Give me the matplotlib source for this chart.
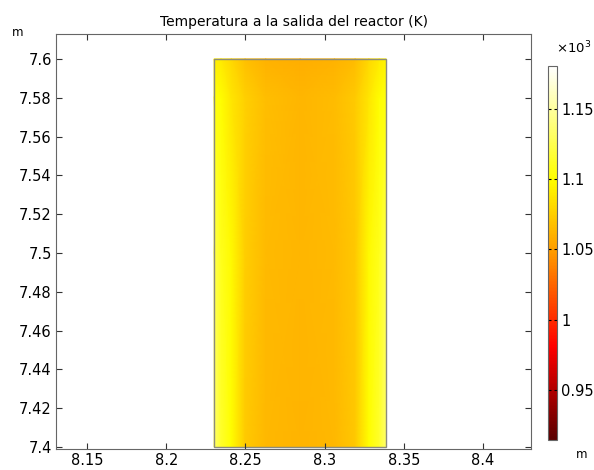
import numpy as np
import matplotlib.pyplot as plt
from matplotlib.colors import LinearSegmentedColormap, Normalize
from matplotlib.ticker import FixedLocator, FuncFormatter

# dominio del reactor (m)
x_edges = [8.2302, 8.3388]
y_edges = [7.40, 7.60]

# posiciones relativas en x donde se leyo la temperatura
x_frac = [0, 0.04, 0.10, 0.18, 0.30, 0.50, 0.70, 0.82, 0.90, 0.96, 1.0]
y_pts = [7.40, 7.50, 7.58, 7.60]

# temperatura (K)
T_y740 = [1135, 1115, 1100, 1073, 1064, 1062, 1064, 1072, 1100, 1115, 1135]
T_y750 = [1125, 1110, 1098, 1075, 1065, 1063, 1065, 1072, 1098, 1110, 1125]
T_y758 = [1105, 1100, 1088, 1076, 1067, 1063, 1066, 1073, 1088, 1100, 1105]
T_y760 = [1092, 1090, 1080, 1068, 1061, 1058, 1061, 1066, 1080, 1090, 1095]

T_min, T_max = 914, 1181
cbar_ticks = [950, 1000, 1050, 1100, 1150]
x_ticks = [8.15, 8.2, 8.25, 8.3, 8.35, 8.4]
y_ticks = [7.4, 7.42, 7.44, 7.46, 7.48, 7.5, 7.52, 7.54, 7.56, 7.58, 7.6]

# mapa de color tipo "thermal" de COMSOL
cmap = LinearSegmentedColormap.from_list('calor', [
    (0.00, (0.35, 0.0, 0.0)),
    (0.25, (1.0, 0.0, 0.0)),
    (0.50, (1.0, 0.6, 0.0)),
    (0.70, (1.0, 1.0, 0.0)),
    (1.00, (1.0, 1.0, 1.0)),
])
norm = Normalize(T_min, T_max)

fig = plt.figure(figsize=(5.94, 4.70), dpi=100)
ax = fig.add_axes([0.0943, 0.0447, 0.7997, 0.8833])

xs = x_edges[0] + np.array(x_frac) * (x_edges[1] - x_edges[0])
X, Y = np.meshgrid(xs, y_pts)
T = np.array([T_y740, T_y750, T_y758, T_y760])
ax.pcolormesh(X, Y, T, cmap=cmap, norm=norm, shading='gouraud')
ax.add_patch(plt.Rectangle((x_edges[0], y_edges[0]), x_edges[1] - x_edges[0],
                           y_edges[1] - y_edges[0], fill=False,
                           edgecolor='#8c8c7c', lw=1.0))

ax.set_xlim(8.1304, 8.4303)
ax.set_ylim(7.399, 7.6129)
ax.xaxis.set_major_locator(FixedLocator(x_ticks))
ax.yaxis.set_major_locator(FixedLocator(y_ticks))
fmt = FuncFormatter(lambda v, p: '%g' % round(v, 3))
ax.xaxis.set_major_formatter(fmt)
ax.yaxis.set_major_formatter(fmt)
ax.tick_params(direction='in', top=True, right=True, length=4, width=0.8,
               labelsize=10.5, color='#333333', pad=3)
for s in ax.spines.values():
    s.set_color('#666666')
    s.set_linewidth(0.8)

ax.set_title('Temperatura a la salida del reactor (K)', fontsize=10, pad=6)
fig.text(12 / 594, 1 - 33 / 470, 'm', fontsize=8.5, ha='left', va='center')
fig.text(582 / 594, 1 - 455 / 470, 'm', fontsize=8.5, ha='center', va='center')

# barra de color
cax = fig.add_axes([548 / 594, 30 / 470, 9 / 594, 374 / 470])
sm = plt.cm.ScalarMappable(norm=norm, cmap=cmap)
cb = fig.colorbar(sm, cax=cax)
cb.set_ticks(cbar_ticks)
cb.ax.yaxis.set_major_formatter(FuncFormatter(lambda v, p: '%g' % round(v / 1000, 3)))
cb.ax.tick_params(direction='in', length=2.5, width=0.8, labelsize=10.5, left=True, pad=3)
cb.outline.set_edgecolor('#666666')
cb.outline.set_linewidth(0.8)
fig.text(574 / 594, 1 - 48 / 470, r'$\times10^3$', fontsize=9.5, ha='center', va='center')

fig.savefig('out.png', dpi=100)
